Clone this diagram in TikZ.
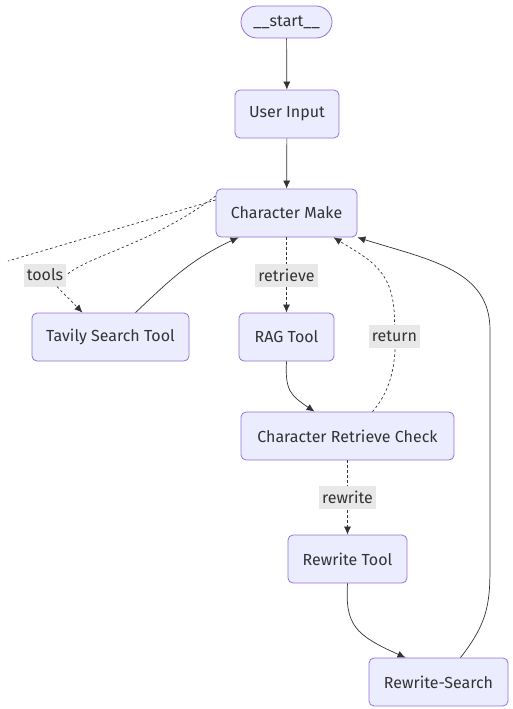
\documentclass[tikz,border=0pt]{standalone}
\usepackage{fontspec}
\setmainfont{Fira Sans}
\usetikzlibrary{arrows.meta}
\definecolor{boxfill}{HTML}{ECECFF}
\definecolor{boxline}{HTML}{9370DB}
\definecolor{ink}{HTML}{333333}
\definecolor{lblfill}{HTML}{E8E8E8}
\tikzset{
	state/.style={draw=boxline,fill=boxfill,rounded corners=5pt,line width=0.8pt,
		minimum height=48pt,text=ink,font=\fontsize{16}{19}\selectfont,inner sep=0pt},
	term/.style={state,rounded corners=16pt,minimum height=32pt},
	lbl/.style={fill=lblfill,text=ink,font=\fontsize{16}{19}\selectfont,
		minimum height=23pt,inner sep=3pt},
	flow/.style={draw=ink,line width=0.7pt,-{Latex[length=8pt,width=7pt]}},
	dots/.style={draw=ink,line width=0.7pt,dash pattern=on 2.5pt off 2.5pt},
	cond/.style={flow,dots}
}
\begin{document}
\begin{tikzpicture}[x=1pt,y=-1pt]
	\useasboundingbox (0,0) rectangle (512,709);
	% nodes
	\node[term,minimum width=91pt] (start) at (286.5,22) {\_\_start\_\_};
	\node[state,minimum width=104pt] (input) at (287,114) {User Input};
	\node[state,minimum width=141pt] (make) at (286.5,213) {Character Make};
	\node[state,minimum width=157pt] (tavily) at (110.5,337) {Tavily Search Tool};
	\node[state,minimum width=95pt] (rag) at (286.5,337) {RAG Tool};
	\node[state,minimum width=213pt] (check) at (347.5,436) {Character Retrieve Check};
	\node[state,minimum width=119pt] (rewrite) at (347.5,559) {Rewrite Tool};
	\node[state,minimum width=139pt] (search) at (438.5,682) {Rewrite-Search};
	\coordinate (out) at (8,261);
	% straight edges
	\draw[flow] (start) -- (input);
	\draw[flow] (input) -- (make);
	\draw[dots] ([yshift=13pt]make.west) -- (out);
	% tools
	\node[lbl] (tools) at (45,275) {tools};
	\draw[dots] ([yshift=17pt]make.west) .. controls (150,245) and (90,255) .. (tools.east);
	\draw[cond] (tools.south) ++(12,0) -- ([xshift=-28pt]tavily.north);
	\draw[flow] ([xshift=25pt]tavily.north) .. controls (170,280) and (190,260) .. ([xshift=-48pt]make.south);
	% retrieve
	\draw[cond] (make.south) -- node[lbl] (retrieve) {retrieve} (rag.north);
	\draw[flow] (rag.south) .. controls (285,390) and (290,395) .. ([xshift=-33pt]check.north);
	% return
	\draw[cond] ([xshift=25pt]check.north) .. controls (400,380) and (395,340) .. (394.5,320)
		.. controls (394,270) and (370,260) .. ([xshift=47pt]make.south);
	\node[lbl] (return) at (394.5,336) {return};
	% rewrite
	\draw[cond] (check.south) -- node[lbl] (rw) {rewrite} (rewrite.north);
	\draw[flow] (rewrite.south) .. controls (345,625) and (355,635) .. ([xshift=-33pt]search.north);
	\draw[flow] ([xshift=22pt]search.north) .. controls (490,620) and (490,600) .. (490,560)
		-- (490,330) .. controls (490,270) and (430,260) .. (make.south east);
\end{tikzpicture}
\end{document}
